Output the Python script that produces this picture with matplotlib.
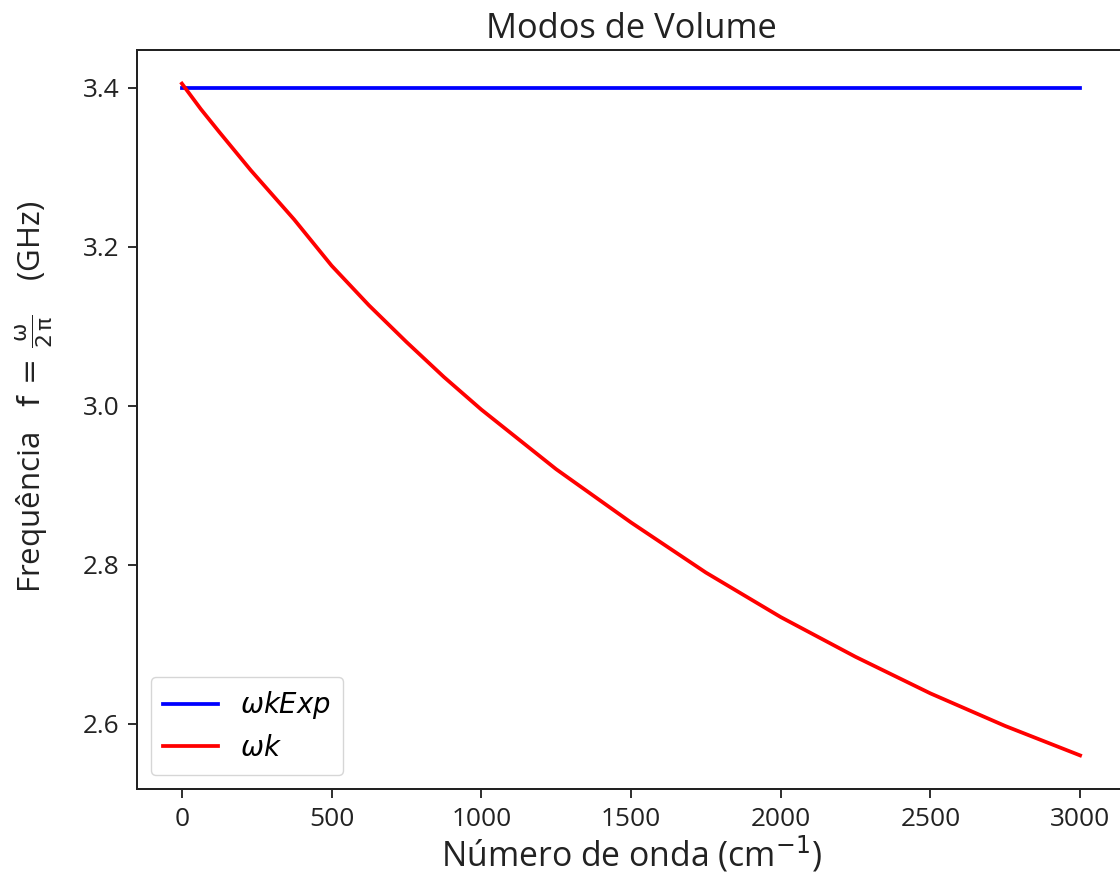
import matplotlib
matplotlib.use("Agg")
import matplotlib.pyplot as plt

plt.rcParams['font.family'] = ['Open Sans', 'DejaVu Sans']
plt.rcParams['mathtext.fontset'] = 'dejavusans'

k_values = [0, 63, 125, 230, 375, 500, 625, 750, 875, 1000, 1250, 1500, 1750, 2000, 2250, 2500, 2750, 3000]
omega_k = [3.405, 3.373, 3.344, 3.296, 3.234, 3.176, 3.126, 3.080, 3.036, 2.995, 2.920, 2.853, 2.790, 2.734, 2.684, 2.638, 2.597, 2.560]
k_exp = [0, 3000]
omega_exp = [3.4, 3.4]

title = "Modos de Volume"
xlabel = "Número de onda (cm$^{-1}$)"
ylabel = r"Frequência   $\mathrm{f\, =\, \frac{\omega}{2\,\pi}}$    (GHz)"
legend_labels = [r"$\omega k Exp$", r"$\omega k$"]

s = 1.8
fig = plt.figure(figsize=(11.2, 8.81), dpi=100)
ax = fig.add_axes([137/1120, 1-789/881, (1125-137)/1120, (789-50)/881])
ax.plot(k_exp, omega_exp, color='blue', lw=1.5*s, label=legend_labels[0])
ax.plot(k_values, omega_k, color='red', lw=1.5*s, label=legend_labels[1])
ax.set_xlim(-150, 3150)
ax.set_xticks([0, 500, 1000, 1500, 2000, 2500, 3000])
ax.set_yticks([2.6, 2.8, 3.0, 3.2, 3.4])
ax.set_yticklabels(["2.6", "2.8", "3.0", "3.2", "3.4"])
ax.tick_params(labelsize=10.5*s, length=3.5*s, width=0.8*s, pad=3.5*s, colors='#333333', labelcolor='#222222')
for sp in ax.spines.values():
    sp.set_linewidth(0.8*s)
    sp.set_color('#222222')
ax.set_title(title, fontsize=13.8*s, pad=5*s, color='#222222')
ax.set_xlabel(xlabel, fontsize=13.5*s, labelpad=1, color='#222222')
ax.set_ylabel(ylabel, fontsize=12.5*s, color='#222222')
ax.yaxis.set_label_coords(-0.083, 0.53)
leg = ax.legend(loc='lower left', fontsize=11*s, handlelength=2.0, borderpad=0.45, labelspacing=0.5)
fig.savefig("out.png", dpi=100)
